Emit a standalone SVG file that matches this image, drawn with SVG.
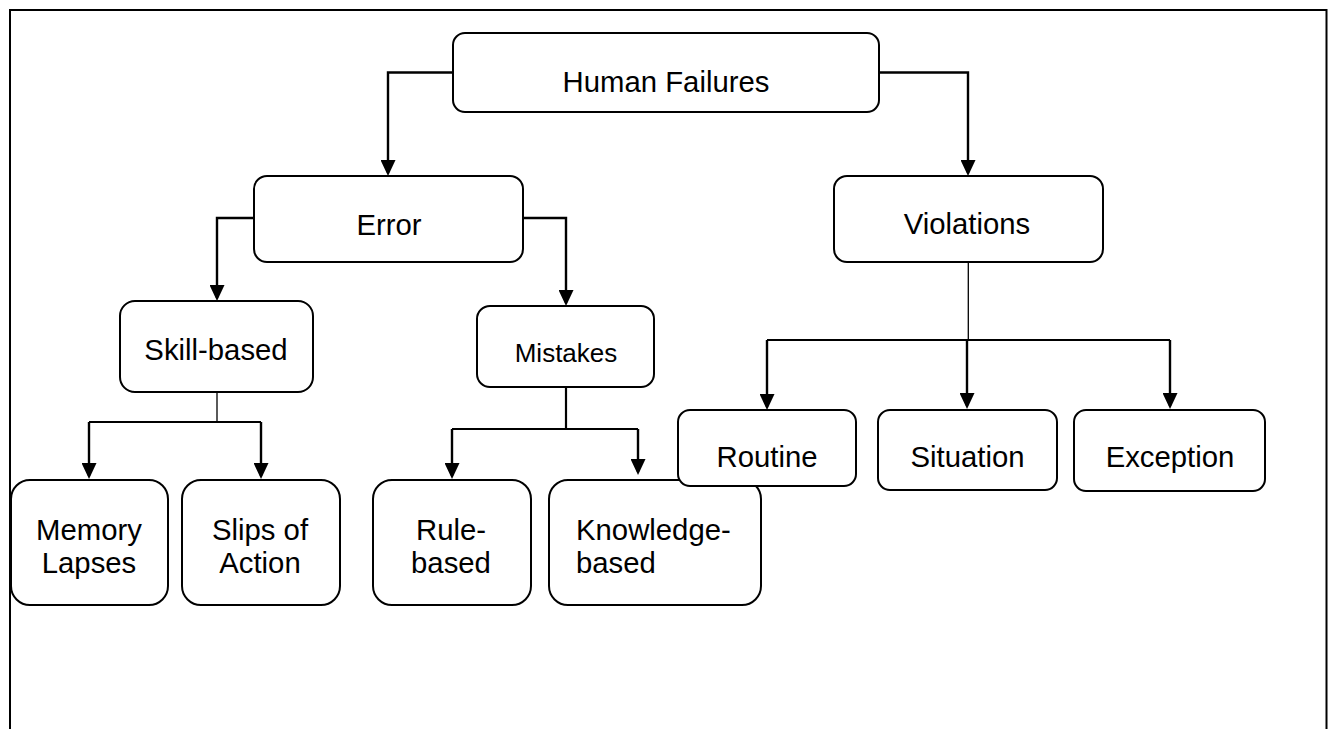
<svg xmlns="http://www.w3.org/2000/svg" width="1335" height="729" viewBox="0 0 1335 729">
  <style>
    .box { fill: #ffffff; stroke: #000000; stroke-width: 2; }
    .lbl { font-family: "Liberation Sans", Arial, sans-serif; font-size: 29.3px; fill: #000000; text-anchor: middle; }
    .lbl-left { text-anchor: start; }
    .small { font-size: 26px; }
    .wire { fill: none; stroke: #000000; stroke-width: 2.2; }
    .stem { fill: none; stroke: #000000; stroke-width: 1.3; }
    .arrow { fill: none; stroke: #000000; stroke-width: 2.4; marker-end: url(#head); }
  </style>
  <defs>
    <marker id="head" viewBox="0 0 16 15" refX="13" refY="7.5" markerWidth="16" markerHeight="15" markerUnits="userSpaceOnUse" orient="auto">
      <path d="M0,0 L16,7.5 L0,15 Z" fill="#000000"/>
    </marker>
  </defs>

  <rect width="1335" height="729" fill="#ffffff"/>

  <!-- page frame, open at the bottom -->
  <path d="M10,729 V10 H1326.5 V729" fill="none" stroke="#000000" stroke-width="2"/>

  <!-- connectors -->
  <g id="connectors">
    <!-- Human Failures to Error / Violations -->
    <path class="arrow" d="M453,72.5 H388 V173"/>
    <path class="arrow" d="M879,72.5 H968 V173"/>
    <!-- Error to Skill-based / Mistakes -->
    <path class="arrow" d="M254,218 H217 V298"/>
    <path class="arrow" d="M523,218 H566 V303"/>
    <!-- Skill-based branches -->
    <path class="stem" d="M217,392 V421"/>
    <path class="wire" d="M89,422 H261"/>
    <path class="arrow" d="M89,422 V476"/>
    <path class="arrow" d="M261,422 V476"/>
    <!-- Mistakes branches -->
    <path class="wire" d="M566,387 V429"/>
    <path class="wire" d="M452,429 H638"/>
    <path class="arrow" d="M452,429 V476"/>
    <path class="arrow" d="M638,429 V472"/>
    <!-- Violations branches -->
    <path class="stem" d="M968.3,262 V340"/>
    <path class="wire" d="M767,340 H1170"/>
    <path class="arrow" d="M767,340 V407"/>
    <path class="arrow" d="M967,340 V406"/>
    <path class="arrow" d="M1170,340 V406"/>
  </g>

  <g id="human-failures">
    <rect class="box" x="453" y="33" width="426" height="79" rx="12"/>
    <text class="lbl" x="666" y="92">Human Failures</text>
  </g>

  <g id="error">
    <rect class="box" x="254" y="176" width="269" height="86" rx="13"/>
    <text class="lbl" x="389" y="235">Error</text>
  </g>

  <g id="violations">
    <rect class="box" x="834" y="176" width="269" height="86" rx="13"/>
    <text class="lbl" x="967" y="234">Violations</text>
  </g>

  <g id="skill-based">
    <rect class="box" x="120" y="301" width="193" height="91" rx="15"/>
    <text class="lbl" x="216" y="360">Skill-based</text>
  </g>

  <g id="mistakes">
    <rect class="box" x="477" y="306" width="177" height="81" rx="13"/>
    <text class="lbl small" x="566" y="362">Mistakes</text>
  </g>

  <g id="memory-lapses">
    <rect class="box" x="11" y="480" width="157" height="125" rx="19"/>
    <text class="lbl" x="89" y="540">Memory</text>
    <text class="lbl" x="89" y="573">Lapses</text>
  </g>

  <g id="slips-of-action">
    <rect class="box" x="182" y="480" width="158" height="125" rx="19"/>
    <text class="lbl" x="260" y="540">Slips of</text>
    <text class="lbl" x="260" y="573">Action</text>
  </g>

  <g id="rule-based">
    <rect class="box" x="373" y="480" width="158" height="125" rx="19"/>
    <text class="lbl" x="451" y="540">Rule-</text>
    <text class="lbl" x="451" y="573">based</text>
  </g>

  <g id="knowledge-based">
    <rect class="box" x="549" y="480" width="212" height="125" rx="19"/>
    <text class="lbl lbl-left" x="576" y="540">Knowledge-</text>
    <text class="lbl lbl-left" x="576" y="573">based</text>
  </g>

  <g id="routine">
    <rect class="box" x="678" y="410" width="178" height="76" rx="12"/>
    <text class="lbl" x="767" y="467">Routine</text>
  </g>

  <g id="situation">
    <rect class="box" x="878" y="410" width="179" height="80" rx="12"/>
    <text class="lbl" x="967.5" y="467">Situation</text>
  </g>

  <g id="exception">
    <rect class="box" x="1074" y="410" width="191" height="81" rx="12"/>
    <text class="lbl" x="1170" y="467">Exception</text>
  </g>
</svg>
